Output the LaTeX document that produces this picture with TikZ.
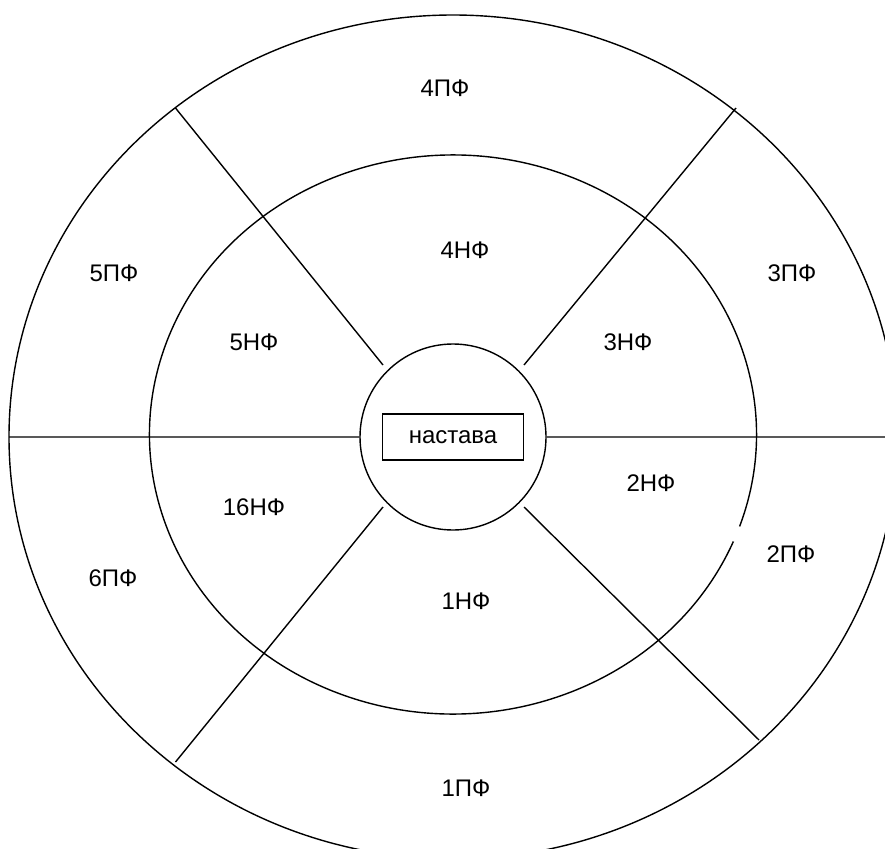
\documentclass[tikz,border=0pt]{standalone}
\usepackage{fontspec}
\setmainfont{Liberation Sans}
\usetikzlibrary{positioning}
\tikzset{
  seg/.style={line width=1.4pt},
  zone/.style={font=\fontsize{24}{28}\selectfont,inner sep=0pt},
  hub/.style={draw,line width=1.4pt,minimum width=141pt,minimum height=46pt,
    inner sep=0pt,font=\fontsize{24}{28}\selectfont},
}
\begin{document}
\begin{tikzpicture}[x=1pt,y=-1pt]
  \useasboundingbox (0,0) rectangle (885,848);
  \clip (0,0) rectangle (885,848);
  \coordinate (c) at (453,437);
  \coordinate (ci) at (453,434.5);
  % rings
  \draw[seg] (c) ellipse[x radius=444,y radius=422];
  \draw[seg] ([shift={(22.5:303.5 and 279.5)}]ci)
    arc[start angle=22.5,end angle=379.2,x radius=303.5,y radius=279.5];
  \node[circle,draw,seg,minimum size=186pt,inner sep=0pt] (core) at (c) {};
  \node[hub] (hub) at (c) {настава};
  % spokes
  \coordinate (nw0) at (383,365);   \coordinate (nw1) at (175.5,108);
  \coordinate (ne0) at (524,365);   \coordinate (ne1) at (736,108);
  \coordinate (sw0) at (383,507);   \coordinate (sw1) at (175.5,762);
  \coordinate (se0) at (524,507);   \coordinate (se1) at (759,740);
  \coordinate (w1) at (9,437);      \coordinate (e1) at (890,437);
  \draw[seg] (nw0) -- (nw1) (ne0) -- (ne1) (sw0) -- (sw1) (se0) -- (se1)
             (core.west) -- (w1) (core.east) -- (e1);
  % zones
  \node[zone] (pf4) at (445,88)  {4ПФ};
  \node[zone] (nf4) at (465,250) {4НФ};
  \node[zone] (pf5) at (114,273) {5ПФ};
  \node[zone] (pf3) at (792,273) {3ПФ};
  \node[zone] (nf5) at (254,342) {5НФ};
  \node[zone] (nf3) at (628,342) {3НФ};
  \node[zone] (nf2) at (651,483) {2НФ};
  \node[zone] (nf16) at (254,507) {16НФ};
  \node[zone] (pf2) at (791,554) {2ПФ};
  \node[zone] (pf6) at (113,578) {6ПФ};
  \node[zone] (nf1) at (466,601) {1НФ};
  \node[zone] (pf1) at (466,788) {1ПФ};
\end{tikzpicture}
\end{document}
